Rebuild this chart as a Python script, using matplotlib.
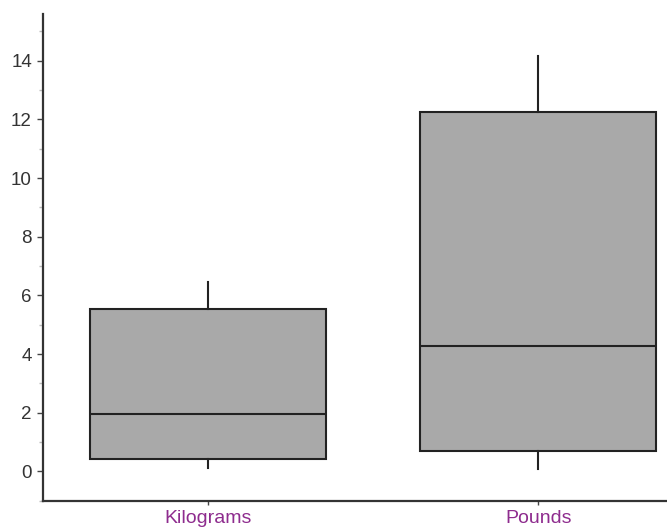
import matplotlib.pyplot as plt
from matplotlib.ticker import MultipleLocator

plt.rcParams['font.family'] = ['Liberation Sans', 'DejaVu Sans']

# box statistics
categories = ['Kilograms', 'Pounds']
whislo = [0.13, 0.07]
q1 = [0.41, 0.69]
med = [1.94, 4.27]
q3 = [5.55, 12.24]
whishi = [6.44, 14.15]

stats = [{'label': c, 'whislo': lo, 'q1': a, 'med': m, 'q3': b, 'whishi': hi}
         for c, lo, a, m, b, hi in zip(categories, whislo, q1, med, q3, whishi)]

fig = plt.figure(figsize=(6.67, 5.31), dpi=100)
ax = fig.add_axes([0.0645, 0.057, 0.9355, 0.917])

ax.bxp(stats, positions=[0, 1], widths=0.715, showfliers=False, showcaps=False,
       patch_artist=True,
       boxprops={'facecolor': '#a9a9a9', 'edgecolor': '#222222', 'linewidth': 1.5},
       medianprops={'color': '#222222', 'linewidth': 1.5},
       whiskerprops={'color': '#222222', 'linewidth': 1.5})

ax.set_xlim(-0.5, 1.39)
ax.set_ylim(-1, 15.6)
ax.yaxis.set_major_locator(MultipleLocator(2))
ax.yaxis.set_minor_locator(MultipleLocator(1))
ax.set_xticks([0, 1])
ax.set_xticklabels(categories, color='#8E2C8E', fontsize=14)

for s in ['top', 'right']:
    ax.spines[s].set_visible(False)
for s in ['left', 'bottom']:
    ax.spines[s].set_linewidth(1.6)
    ax.spines[s].set_color('#333333')

ax.tick_params(axis='y', which='major', length=4, width=1, color='#444444',
               labelsize=13.5, labelcolor='#333333', pad=4)
ax.tick_params(axis='y', which='minor', length=3, width=1, color='#bbbbbb')
ax.tick_params(axis='x', length=3, width=1, color='#444444', pad=4)

plt.savefig('out.png', dpi=100)
